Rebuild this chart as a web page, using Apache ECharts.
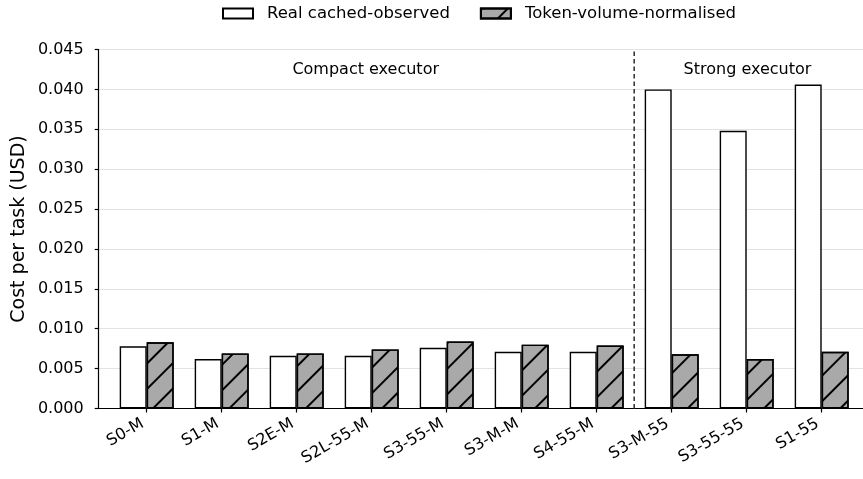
<!DOCTYPE html>
<html>
<head>
<meta charset="utf-8">
<script src="https://cdn.jsdelivr.net/npm/echarts@6/dist/echarts.min.js"></script>
<style>html,body{margin:0;padding:0;background:#fff;overflow:hidden}#c{width:874px;height:479px}</style>
</head>
<body>
<div id="c"></div>
<script>
const categories = ['S0-M','S1-M','S2E-M','S2L-55-M','S3-55-M','S3-M-M','S4-55-M','S3-M-55','S3-55-55','S1-55'];
const realCached = [0.0078, 0.0062, 0.0066, 0.0066, 0.0076, 0.0071, 0.0071, 0.0400, 0.0348, 0.0406];
const tokenNorm = [0.0083, 0.0069, 0.0069, 0.0074, 0.0084, 0.0080, 0.0079, 0.0068, 0.0062, 0.0071];
const yTicks = [0, 0.005, 0.010, 0.015, 0.020, 0.025, 0.030, 0.035, 0.040, 0.045];
const seriesNames = ['Real cached-observed', 'Token-volume-normalised'];
const groupLabels = ['Compact executor', 'Strong executor'];
const groupLabelX = [2.92, 8.01];
const groupLabelY = 0.0424;
const dividerX = 6.5;

const FONT = 'DejaVu Sans';
const idx = categories.map((c, i) => i);
const chart = echarts.init(document.getElementById('c'), null, {renderer: 'canvas'});
chart.setOption({
  animation: false,
  textStyle: {fontFamily: FONT, color: '#000'},
  legend: {
    top: 5, left: 222, padding: 0, icon: 'rect',
    itemWidth: 30, itemHeight: 10, itemGap: 30,
    textStyle: {fontFamily: FONT, fontSize: 16.5, color: '#000', padding: [0, 0, 0, 9]},
    data: seriesNames
  },
  grid: {left: 98.7, top: 49.5, width: 771, height: 359, containLabel: false},
  xAxis: {
    type: 'value', min: -0.64, max: 9.64,
    axisLine: {show: true, onZero: false, lineStyle: {color: '#000', width: 1.2}},
    axisTick: {show: true, customValues: idx, length: 4, lineStyle: {color: '#000', width: 1.2}},
    axisLabel: {customValues: idx, rotate: 30, margin: 21, verticalAlign: 'bottom', align: 'right',
      fontSize: 16, fontFamily: FONT, color: '#000',
      formatter: v => categories[Math.round(v)]},
    splitLine: {show: false}
  },
  yAxis: {
    type: 'value', min: 0, max: 0.045, interval: 0.005,
    name: 'Cost per task (USD)', nameLocation: 'middle', nameGap: 70, nameMoveOverlap: false,
    nameTextStyle: {fontSize: 19, fontFamily: FONT, color: '#000'},
    axisLine: {show: true, onZero: false, lineStyle: {color: '#000', width: 1.2}},
    axisTick: {show: true, length: 4, lineStyle: {color: '#000', width: 1.2}},
    axisLabel: {fontSize: 16, fontFamily: FONT, color: '#000', margin: 15, formatter: v => v.toFixed(3),
      customValues: yTicks},
    splitLine: {show: true, lineStyle: {color: '#e3e3e3', width: 1}}
  },
  series: [
    {
      name: seriesNames[0], type: 'bar', barWidth: 27, barGap: '0%',
      itemStyle: {color: '#ffffff', borderColor: '#000', borderWidth: 1.4},
      data: realCached.map((v, i) => [i, v])
    },
    {
      name: seriesNames[1], type: 'bar', barWidth: 27, barGap: '0%',
      itemStyle: {
        color: '#a9a9a9', borderColor: '#000', borderWidth: 1.4,
        decal: {symbol: 'rect', symbolSize: 1, color: '#000', dashArrayX: [1, 0], dashArrayY: [2, 16], rotation: -Math.PI / 4}
      },
      data: tokenNorm.map((v, i) => [i, v])
    },
    {
      name: 'divider', type: 'line', silent: true, symbol: 'none', z: 5,
      lineStyle: {color: '#3a3a3a', type: [4.5, 3], width: 1.6},
      data: [[dividerX, 0], [dividerX, 0.045]],
      markPoint: {
        symbol: 'circle', symbolSize: 0,
        label: {show: true, position: 'inside', fontSize: 16, fontFamily: FONT, color: '#000',
          formatter: p => p.name},
        data: groupLabels.map((g, i) => ({name: g, coord: [groupLabelX[i], groupLabelY]}))
      }
    }
  ]
});
</script>
</body>
</html>
